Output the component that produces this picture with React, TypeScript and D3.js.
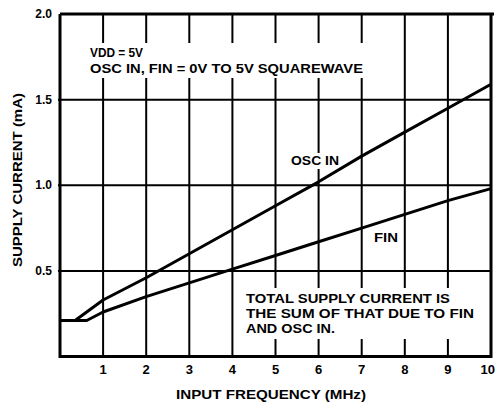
import React from "react";
import * as d3 from "d3";

const freq = [0, 0.35, 1, 2, 3, 4, 5, 6, 7, 8, 9, 10];
const oscIn = [0.21, 0.21, 0.33, 0.46, 0.6, 0.74, 0.88, 1.02, 1.17, 1.31, 1.45, 1.59];
const freqFin = [0, 0.62, 1, 2, 3, 4, 5, 6, 7, 8, 9, 10];
const fin = [0.21, 0.21, 0.26, 0.35, 0.43, 0.51, 0.59, 0.67, 0.75, 0.83, 0.91, 0.98];
const xTicks = [1, 2, 3, 4, 5, 6, 7, 8, 9, 10];
const yTicks = [0.5, 1.0, 1.5, 2.0];
const yTickLabels = ["0.5", "1.0", "1.5", "2.0"];
const noteTop = ["VDD  = 5V", "OSC IN, FIN  = 0V TO 5V SQUAREWAVE"];
const noteBottom = ["TOTAL SUPPLY CURRENT IS", "THE SUM OF THAT DUE TO FIN", "AND OSC IN."];

const W = 496;
const H = 407;
const FONT = "'Liberation Sans', Arial, Helvetica, sans-serif";

export default function App() {
  const x = d3.scaleLinear().domain([0, 10]).range([60, 491]);
  const y = d3.scaleLinear().domain([0, 2]).range([356.5, 14]);
  const line = d3
    .line<[number, number]>()
    .x((d) => x(d[0]))
    .y((d) => y(d[1]));
  const oscData: [number, number][] = freq.map((f, i) => [f, oscIn[i]]);
  const finData: [number, number][] = freqFin.map((f, i) => [f, fin[i]]);

  return (
    <svg
      width={W}
      height={H}
      style={{ position: "absolute", left: 0, top: 0, background: "#fff" }}
      fontFamily={FONT}
      fontWeight="bold"
    >
      <rect x={0} y={0} width={W} height={H} fill="#fff" />
      {/* vertical grid */}
      {xTicks.slice(0, -1).map((t) => (
        <line key={"vx" + t} x1={x(t)} x2={x(t)} y1={y(2)} y2={y(0)} stroke="#000" strokeWidth={2} />
      ))}
      {/* horizontal grid */}
      {yTicks.slice(0, -1).map((t) => (
        <line key={"hy" + t} x1={x(0) - 2} x2={x(10)} y1={y(t)} y2={y(t)} stroke="#000" strokeWidth={2} />
      ))}
      {/* white boxes behind text */}
      <rect x={86} y={43} width={279} height={35} fill="#fff" />
      <rect x={287} y={153} width={55} height={16} fill="#fff" />
      <rect x={242} y={288} width={236} height={51} fill="#fff" />
      {/* frame */}
      <path
        d={`M${x(0)},${y(2)} L${x(10) + 3},${y(2)} M${x(10)},${y(2)} L${x(10)},${y(0)} L${x(0)},${y(0)} L${x(0)},${y(2)}`}
        fill="none"
        stroke="#000"
        strokeWidth={3}
      />
      {/* curves */}
      <path d={line(oscData) || ""} fill="none" stroke="#000" strokeWidth={3} strokeLinejoin="round" />
      <path d={line(finData) || ""} fill="none" stroke="#000" strokeWidth={3} strokeLinejoin="round" />
      {/* y tick labels */}
      {yTicks.map((t, i) => (
        <text key={"yl" + t} x={52} y={y(t) + 4} textAnchor="end" fontSize={12}>
          {yTickLabels[i]}
        </text>
      ))}
      {/* x tick labels */}
      {xTicks.map((t) => (
        <text
          key={"xl" + t}
          x={t === 10 ? W - 1 : x(t)}
          y={374}
          textAnchor={t === 10 ? "end" : "middle"}
          fontSize={13}
        >
          {t}
        </text>
      ))}
      {/* axis titles */}
      <text x={176} y={399} fontSize={13} textLength={190} lengthAdjust="spacingAndGlyphs">
        INPUT FREQUENCY (MHz)
      </text>
      <text
        transform="translate(22,180) rotate(-90)"
        textAnchor="middle"
        fontSize={13}
        textLength={174}
        lengthAdjust="spacingAndGlyphs"
      >
        SUPPLY CURRENT (mA)
      </text>
      {/* annotations */}
      <text x={90} y={57} fontSize={13} textLength={53} lengthAdjust="spacingAndGlyphs">
        {noteTop[0]}
      </text>
      <text x={90} y={73} fontSize={13} textLength={273} lengthAdjust="spacingAndGlyphs">
        {noteTop[1]}
      </text>
      <text x={291} y={165} fontSize={13} textLength={48} lengthAdjust="spacingAndGlyphs">
        OSC IN
      </text>
      <text x={374} y={242} fontSize={13} textLength={24} lengthAdjust="spacingAndGlyphs">
        FIN
      </text>
      {noteBottom.map((s, i) => (
        <text
          key={s}
          x={246}
          y={303 + i * 15}
          fontSize={13}
          textLength={[204, 228, 89][i]}
          lengthAdjust="spacingAndGlyphs"
        >
          {s}
        </text>
      ))}
    </svg>
  );
}
